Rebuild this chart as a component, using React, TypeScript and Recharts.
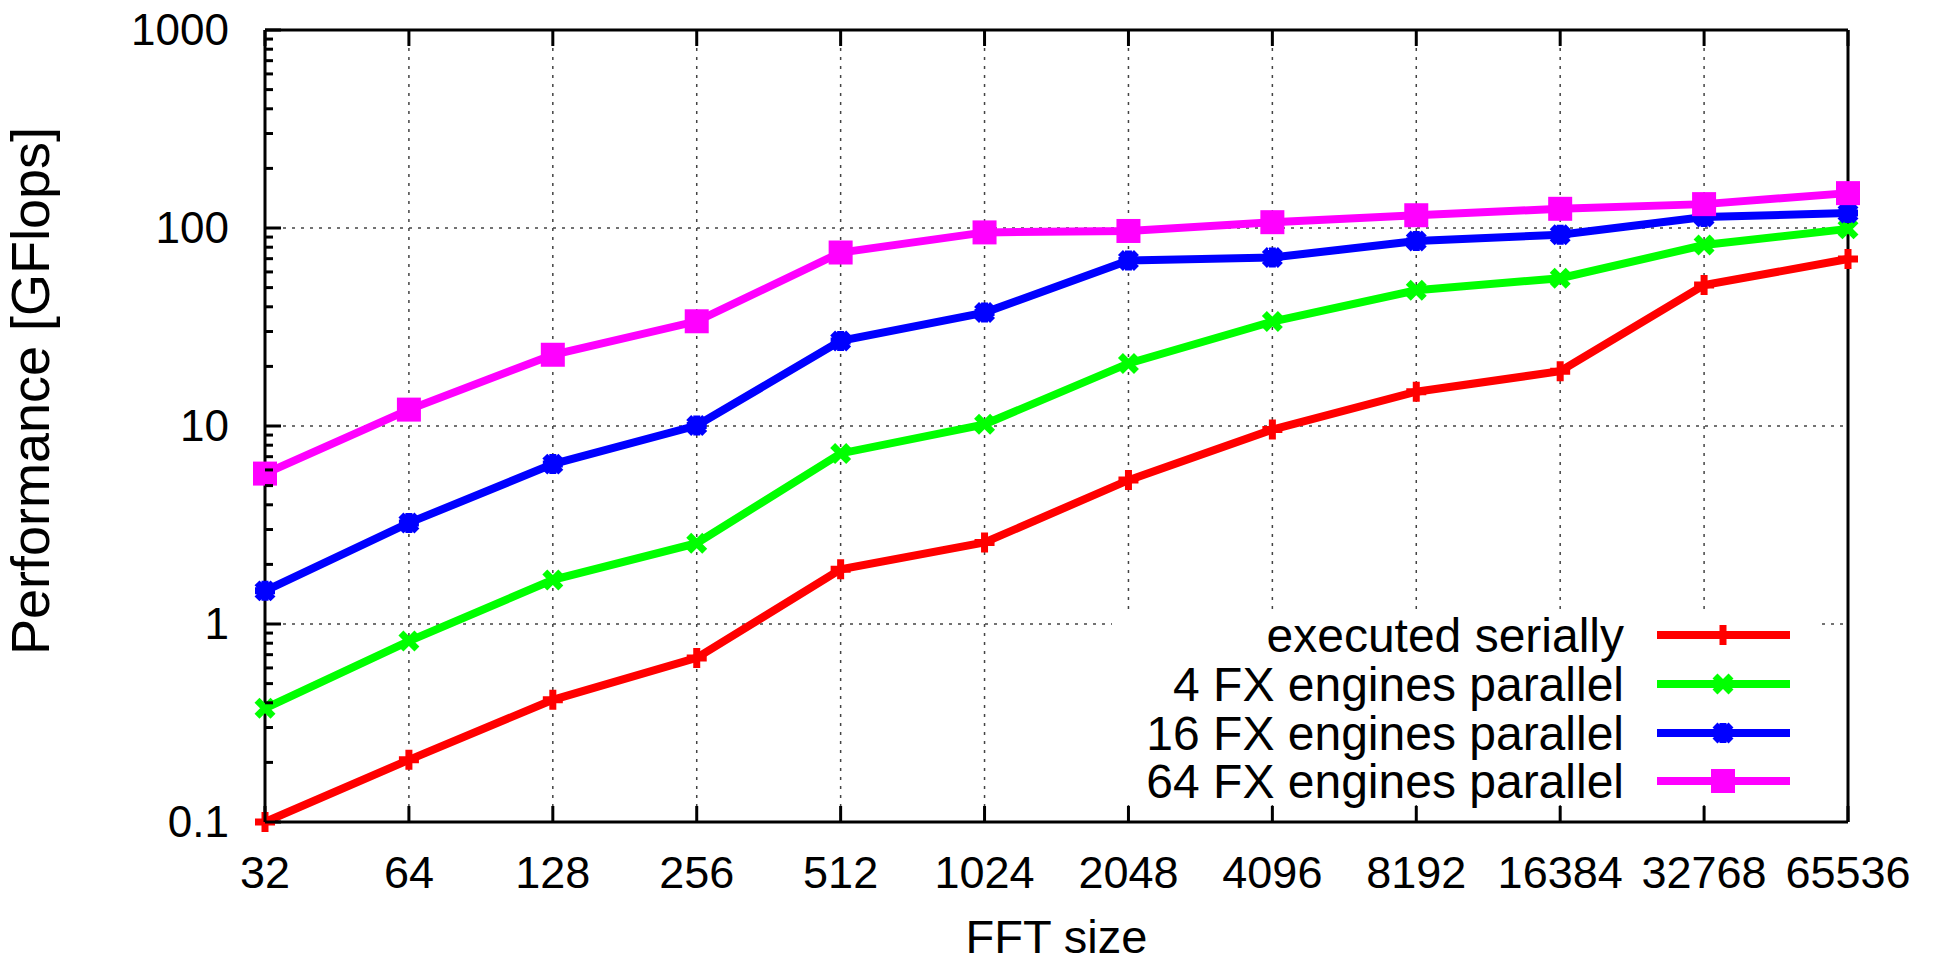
import { LineChart, Line, XAxis, YAxis, CartesianGrid, ReferenceLine, Legend } from 'recharts'

const fftSizes = ['32', '64', '128', '256', '512', '1024', '2048', '4096', '8192', '16384', '32768', '65536']
const serial = [0.1, 0.206, 0.414, 0.674, 1.89, 2.58, 5.33, 9.6, 14.9, 18.9, 51.5, 69.7]
const fx4 = [0.375, 0.82, 1.67, 2.56, 7.27, 10.2, 20.7, 33.7, 48.5, 55.8, 82, 99]
const fx16 = [1.47, 3.24, 6.42, 10.05, 26.9, 37.4, 68.5, 70.9, 86, 92.4, 113.6, 119]
const fx64 = [5.75, 12.1, 22.9, 33.8, 75.2, 95, 96.6, 107, 116, 125, 132, 150]

const majorTicks = [0.1, 1, 10, 100, 1000]
const minorTicks = [0.2, 0.3, 0.4, 0.5, 0.6, 0.7, 0.8, 0.9, 2, 3, 4, 5, 6, 7, 8, 9, 20, 30, 40, 50, 60, 70, 80, 90, 200, 300, 400, 500, 600, 700, 800, 900]
const gridValues = [1, 10, 100]

const series = [
  { key: 'serial', name: 'executed serially', color: '#ff0000', mark: 'plus' },
  { key: 'fx4', name: '4 FX engines parallel', color: '#00ff00', mark: 'cross' },
  { key: 'fx16', name: '16 FX engines parallel', color: '#0000ff', mark: 'star' },
  { key: 'fx64', name: '64 FX engines parallel', color: '#ff00ff', mark: 'square' },
]

const data = fftSizes.map((size, i) => ({
  size,
  serial: serial[i],
  fx4: fx4[i],
  fx16: fx16[i],
  fx64: fx64[i],
}))

const FONT = '"Liberation Sans", Arial, Helvetica, sans-serif'
const yTicks = [...majorTicks, ...minorTicks].sort((a, b) => a - b)

function Marker({ cx, cy, color, mark }: { cx: number; cy: number; color: string; mark: string }) {
  const s = 10
  if (mark === 'square') {
    return <rect x={cx - 12} y={cy - 12} width={24} height={24} fill={color} />
  }
  const plus = `M${cx - s},${cy}L${cx + s},${cy}M${cx},${cy - s}L${cx},${cy + s}`
  const cross = `M${cx - s * 0.8},${cy - s * 0.8}L${cx + s * 0.8},${cy + s * 0.8}M${cx - s * 0.8},${cy + s * 0.8}L${cx + s * 0.8},${cy - s * 0.8}`
  const d = mark === 'plus' ? plus : mark === 'cross' ? cross : plus + cross
  return <path d={d} stroke={color} strokeWidth={7} fill="none" />
}

function LeftTick(props: any) {
  const { x, y, payload } = props
  const major = majorTicks.includes(payload.value)
  return (
    <g>
      <line x1={x} y1={y} x2={x + (major ? 16 : 8)} y2={y} stroke="#000" strokeWidth={3} />
      {major && (
        <text x={x - 36} y={y + 15} textAnchor="end" fontSize={44} fontFamily={FONT} fill="#000">
          {payload.value}
        </text>
      )}
    </g>
  )
}

function RightTick(props: any) {
  const { x, y, payload } = props
  const major = majorTicks.includes(payload.value)
  return <line x1={x} y1={y} x2={x - (major ? 16 : 8)} y2={y} stroke="#000" strokeWidth={3} />
}

function BottomTick(props: any) {
  const { x, y, payload } = props
  return (
    <g>
      <line x1={x} y1={y} x2={x} y2={y - 16} stroke="#000" strokeWidth={3} />
      <text x={x} y={y + 66} textAnchor="middle" fontSize={45} fontFamily={FONT} fill="#000">
        {payload.value}
      </text>
    </g>
  )
}

function TopTick(props: any) {
  const { x, y } = props
  return <line x1={x} y1={y} x2={x} y2={y + 16} stroke="#000" strokeWidth={3} />
}

function KeyBox() {
  const rowY = [25, 74, 123, 171]
  return (
    <div style={{ width: 708, height: 195, background: '#fff' }}>
      <svg width={708} height={195} style={{ overflow: 'visible', display: 'block' }}>
        {series.map((s, i) => (
          <g key={s.key}>
            <text x={512} y={rowY[i] + 17} textAnchor="end" fontSize={48} fontFamily={FONT} fill="#000">
              {s.name}
            </text>
            <line x1={545} y1={rowY[i]} x2={678} y2={rowY[i]} stroke={s.color} strokeWidth={8} />
            <Marker cx={611} cy={rowY[i]} color={s.color} mark={s.mark} />
          </g>
        ))}
      </svg>
    </div>
  )
}

export default function App() {
  return (
    <div style={{ position: 'absolute', left: 0, top: 0, width: 1939, height: 963, background: '#fff' }}>
      <LineChart width={1939} height={963} data={data} margin={{ top: 29, right: 90, bottom: 140, left: 264 }}>
        <CartesianGrid
          xAxisId="bottom"
          yAxisId="left"
          horizontal={false}
          stroke="#444"
          strokeWidth={1.5}
          strokeDasharray="3 6"
        />
        {gridValues.map((v) => (
          <ReferenceLine
            key={v}
            y={v}
            xAxisId="bottom"
            yAxisId="left"
            stroke="#444"
            strokeWidth={1.5}
            strokeDasharray="3 6"
          />
        ))}
        <XAxis
          xAxisId="bottom"
          dataKey="size"
          height={1}
          interval={0}
          tickSize={0}
          tickMargin={0}
          tickLine={false}
          tick={<BottomTick />}
          axisLine={{ stroke: '#000', strokeWidth: 3 }}
          label={{
            content: ({ viewBox }: any) => (
              <text
                x={viewBox.x + viewBox.width / 2}
                y={953}
                textAnchor="middle"
                fontSize={47}
                fontFamily={FONT}
                fill="#000"
              >
                FFT size
              </text>
            ),
          }}
        />
        <XAxis
          xAxisId="top"
          orientation="top"
          dataKey="size"
          height={1}
          interval={0}
          tickSize={0}
          tickMargin={0}
          tickLine={false}
          tick={<TopTick />}
          axisLine={{ stroke: '#000', strokeWidth: 3 }}
        />
        <YAxis
          yAxisId="left"
          type="number"
          scale="log"
          domain={[0.1, 1000]}
          ticks={yTicks}
          interval={0}
          width={1}
          tickSize={0}
          tickMargin={0}
          tickLine={false}
          tick={<LeftTick />}
          axisLine={{ stroke: '#000', strokeWidth: 3 }}
          label={{
            content: () => (
              <text
                x={49}
                y={391}
                transform="rotate(-90, 49, 391)"
                textAnchor="middle"
                fontSize={54}
                fontFamily={FONT}
                fill="#000"
              >
                Performance [GFlops]
              </text>
            ),
          }}
        />
        <YAxis
          yAxisId="right"
          orientation="right"
          type="number"
          scale="log"
          domain={[0.1, 1000]}
          ticks={yTicks}
          interval={0}
          width={1}
          tickSize={0}
          tickMargin={0}
          tickLine={false}
          tick={<RightTick />}
          axisLine={{ stroke: '#000', strokeWidth: 3 }}
        />
        <Legend
          layout="vertical"
          align="center"
          verticalAlign="middle"
          wrapperStyle={{ left: 1112, top: 610, width: 708, height: 195 }}
          content={() => <KeyBox />}
        />
        {series.map((s) => (
          <Line
            key={s.key}
            xAxisId="bottom"
            yAxisId="left"
            dataKey={s.key}
            name={s.name}
            stroke={s.color}
            strokeWidth={8}
            strokeLinejoin="miter"
            isAnimationActive={false}
            dot={(p: any) => <Marker key={`${s.key}-${p.index}`} cx={p.cx} cy={p.cy} color={s.color} mark={s.mark} />}
            activeDot={false}
          />
        ))}
      </LineChart>
    </div>
  )
}
